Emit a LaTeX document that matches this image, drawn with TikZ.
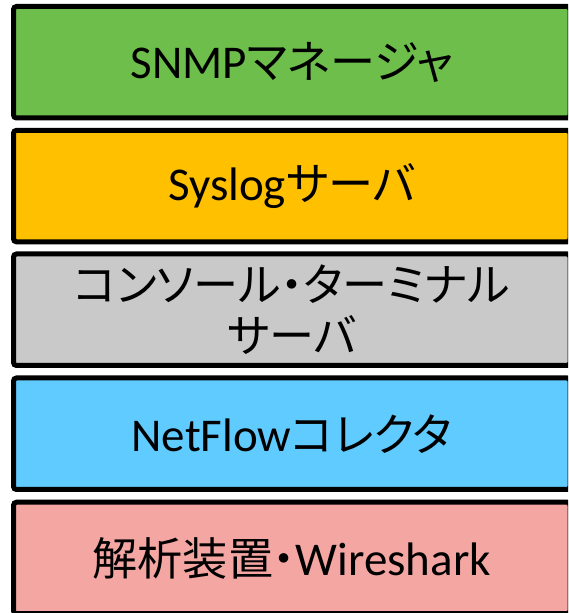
\documentclass[tikz,border=0pt]{standalone}
\usepackage{fontspec}
\setmainfont{Carlito}
\newfontfamily\jp{Noto Sans CJK JP}[RawFeature=+palt, Scale=0.96]
\definecolor{snmpgreen}{RGB}{110,190,75}
\definecolor{syslogorange}{RGB}{255,192,0}
\definecolor{consolegray}{RGB}{201,201,201}
\definecolor{flowblue}{RGB}{96,203,254}
\definecolor{analyzepink}{RGB}{244,166,163}
\begin{document}
\begin{tikzpicture}[x=1pt,y=1pt,
  layerbox/.style={draw=black, line width=5pt, rounded corners=3pt,
    minimum width=556.5pt, minimum height=111.5pt, inner sep=0pt,
    font=\fontsize{47}{51}\selectfont, align=center, text=black}]
\useasboundingbox (0,0) rectangle (568,613);
\clip (0,0) rectangle (568,613);
\node[layerbox, fill=snmpgreen] (snmp) at (291.75,550.75) {SNMP{\jp マネージャ}};
\node[layerbox, fill=syslogorange] (syslog) at (291.75,426.9) {Syslog{\jp サーバ}};
\node[layerbox, fill=consolegray] (console) at (291.75,303.25) {{\jp コンソール・ターミナル}\\{\jp サーバ}};
\node[layerbox, fill=flowblue] (netflow) at (291.75,179.25) {NetFlow{\jp コレクタ}};
\node[layerbox, fill=analyzepink] (analyze) at (291.75,55) {{\jp 解析装置・}Wireshark};
\end{tikzpicture}
\end{document}
